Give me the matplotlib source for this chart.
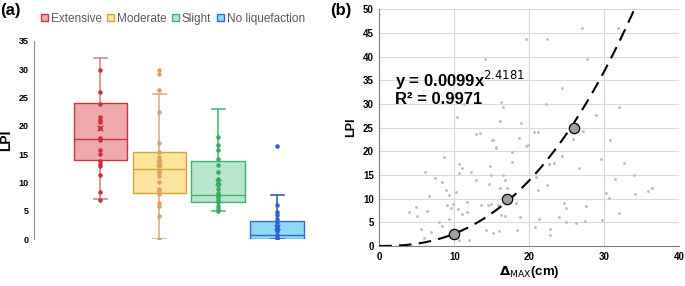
import numpy as np
import matplotlib.pyplot as plt
from matplotlib.patches import Patch

plt.rcParams['font.family'] = ['Liberation Sans', 'DejaVu Sans']

# ---- (a) box plot data ----
categories = ['Extensive', 'Moderate', 'Slight', 'No liquefaction']
q1 = [13.9, 8.2, 6.5, 0.0]
median = [17.7, 12.3, 7.8, 0.8]
q3 = [24.0, 15.3, 13.8, 3.2]
whis_lo = [7.0, 0.0, 5.0, 0.0]
whis_hi = [32.0, 25.6, 23.0, 7.7]
means = [19.6, 13.5, 10.0, 2.2]

pts_ext = [29.9, 25.9, 23.9, 21.6, 21.0, 20.7, 19.6, 17.9, 17.5, 15.8, 15.0,
           13.8, 13.2, 12.9, 11.4, 8.3, 6.9]
pts_mod = [29.8, 29.1, 26.4, 22.4, 17.0, 15.3, 14.5, 13.9, 13.5, 12.9, 12.1,
           11.6, 11.2, 10.1, 8.8, 8.5, 7.9, 6.3, 5.9, 4.1, 0.0]
pts_sli = [18.1, 16.6, 15.7, 14.1, 13.0, 11.8, 10.7, 9.9, 9.6, 8.8, 8.2,
           7.8, 7.4, 6.9, 6.5, 5.9, 5.4, 5.0]
pts_noliq = [16.5, 6.1, 4.8, 4.2, 3.6, 3.1, 2.3, 1.9, 1.4, 0.8, 0.4, 0.0]
points = [pts_ext, pts_mod, pts_sli, pts_noliq]

fills = ['#EDAAAD', '#FDE49E', '#B8E5CD', '#90D7F8']
edges = ['#C9363F', '#D6A23C', '#3FB270', '#2F6BD0']
whisk = ['#C98B8E', '#D8B190', '#4DBA7C', '#3562B8']
dots = ['#C8303A', '#DDA060', '#30AE5E', '#2E5FD0']

# ---- (b) scatter data ----
bg_x = [27.0, 31.8, 19.6, 22.4, 27.65, 14.1, 24.3, 16.2, 16.5, 22.2, 32.0,
        11.3, 10.4, 28.9, 16.05, 18.9, 30.8, 19.6, 15.0, 15.6, 12.85, 13.4,
        20.6, 21.1, 18.6, 24.3, 17.65, 17.65, 26.6, 29.5, 32.6, 34.0, 31.4,
        22.6, 22.4, 21.2, 20.85, 23.3, 14.7, 14.85, 16.5, 16.7, 14.6, 16.05,
        17.0, 8.57, 6.05, 7.38, 10.6, 11.0, 10.6, 6.6, 8.4, 8.9, 9.3, 10.2,
        4.85, 3.96, 5.07, 6.4, 9.07, 9.5, 9.8, 10.5, 11.0, 11.7, 11.65, 12.2,
        12.9, 7.9, 9.3, 8.4, 5.6, 6.85, 5.96, 10.6, 12.0, 18.2, 13.5, 14.5,
        14.9, 16.2, 16.8, 15.8, 18.7, 14.2, 15.2, 15.9, 18.4, 20.8, 22.8,
        22.7, 21.3, 24.6, 24.85, 24.0, 24.9, 26.2, 27.1, 30.2, 30.6, 34.1,
        35.8, 36.4, 27.6, 32.0, 27.4, 29.65, 25.8, 19.8, 15.16, 15.6]
bg_y = [46.0, 46.0, 43.7, 43.7, 39.6, 39.6, 33.4, 30.5, 29.4, 29.9, 29.4,
        29.9, 27.3, 27.7, 26.3, 25.9, 22.4, 21.2, 22.3, 21.0, 23.7, 23.9,
        24.0, 24.1, 22.9, 19.1, 19.9, 17.7, 16.5, 18.3, 17.5, 15.1, 14.1,
        17.3, 12.9, 11.8, 14.6, 17.5, 16.8, 15.0, 15.0, 13.9, 13.0, 12.3,
        12.2, 18.9, 15.7, 14.3, 17.3, 16.5, 15.4, 10.6, 13.6, 11.8, 10.8, 11.5,
        8.3, 7.1, 6.4, 7.4, 8.7, 8.0, 8.8, 7.8, 6.7, 9.2, 7.1, 15.7,
        13.9, 5.1, 5.6, 4.3, 3.5, 3.0, 1.75, 1.3, 1.3, 9.1, 8.7, 8.7,
        8.8, 6.5, 6.4, 8.7, 6.2, 3.4, 2.7, 3.2, 3.4, 4.1, 3.6,
        2.3, 5.8, 9.0, 8.0, 6.2, 5.0, 4.8, 24.3, 11.1, 10.1, 11.0,
        11.6, 12.3, 8.4, 6.9, 5.3, 5.5, 22.7, 21.3, 22.4, 20.8]
class_x = [10, 17, 26]
class_y = [2.5, 10, 25]
fit_a = 0.0099
fit_b = 2.4181

fig = plt.figure(figsize=(6.85, 2.86), dpi=100)

# ---------- panel (a) ----------
ax1 = fig.add_axes([0.0496, 0.164, 0.447, 0.693])
stats = []
for i in range(4):
    stats.append(dict(med=median[i], q1=q1[i], q3=q3[i], whislo=whis_lo[i],
                      whishi=whis_hi[i], mean=means[i], fliers=[]))
pos = np.arange(4)
bp = ax1.bxp(stats, positions=pos, widths=0.9, capwidths=0.22, patch_artist=True,
             showfliers=False, showmeans=False)
for i in range(4):
    bp['boxes'][i].set(facecolor=fills[i], edgecolor=edges[i], linewidth=1.0)
    bp['medians'][i].set(color=edges[i], linewidth=1.0)
    for w in bp['whiskers'][2 * i:2 * i + 2]:
        w.set(color=whisk[i], linewidth=1.2)
    for c in bp['caps'][2 * i:2 * i + 2]:
        c.set(color=whisk[i], linewidth=1.2)
    ax1.scatter([pos[i]] * len(points[i]), points[i], s=5, color=dots[i], zorder=3)
    ax1.scatter([pos[i]], [means[i]], marker='x', s=16, color=dots[i],
                linewidths=1.0, zorder=4)

ax1.set_xlim(-1.12, 4.07)
ax1.set_ylim(0, 35)
ax1.set_yticks(range(0, 36, 5))
ax1.set_xticks([])
for s in ['top', 'right', 'bottom']:
    ax1.spines[s].set_visible(False)
ax1.spines['left'].set_color('#8C8C8C')
ax1.tick_params(axis='y', length=0, labelsize=6.5, pad=4)
for lb in ax1.get_yticklabels():
    lb.set_fontweight('bold')
ax1.set_ylabel('LPI', fontsize=10, fontweight='bold', labelpad=4)

handles = [Patch(facecolor=fills[i], edgecolor=edges[i], linewidth=1.0)
           for i in range(4)]
leg = fig.legend(handles, categories, loc='center', bbox_to_anchor=(0.252, 0.934),
                 ncol=4, frameon=False, fontsize=8.5, handlelength=0.6,
                 handleheight=0.6, handletextpad=0.25, columnspacing=0.45)
for t in leg.get_texts():
    t.set_color('#595959')

fig.text(0.0, 0.965, '(a)', fontsize=12, fontweight='bold', va='center')

# ---------- panel (b) ----------
ax2 = fig.add_axes([0.5537, 0.1399, 0.438, 0.8276])
ax2.scatter(bg_x, bg_y, s=1.2, color='#BDBDBD', zorder=2)
xc = np.linspace(0, 34.1, 200)
ax2.plot(xc, fit_a * xc ** fit_b, color='black', linestyle=(0, (6, 3.5)),
         linewidth=1.5, zorder=3)
ax2.scatter(class_x, class_y, s=55, color='#A0A0A0', edgecolor='black',
            linewidths=0.9, zorder=4)
ax2.set_xlim(0, 40)
ax2.set_ylim(0, 50)
ax2.set_xticks(range(0, 41, 10))
ax2.set_yticks(range(0, 51, 5))
ax2.xaxis.grid(True, color='#D9D9D9', linewidth=0.8)
ax2.set_axisbelow(True)
for yv in range(5, 51, 5):
    ax2.axhline(yv, color='#D9D9D9', linewidth=0.8, zorder=0)
for s in ['top', 'right']:
    ax2.spines[s].set_visible(False)
ax2.spines['left'].set_color('#7F7F7F')
ax2.spines['bottom'].set_color('#7F7F7F')
ax2.tick_params(length=0, labelsize=7, pad=4)
for lb in ax2.get_xticklabels() + ax2.get_yticklabels():
    lb.set_fontweight('bold')
ax2.set_ylabel('LPI', fontsize=9, fontweight='bold', labelpad=4)
ax2.set_xlabel(r'$\mathbf{\Delta}_{\mathrm{MAX}}$(cm)', fontsize=9.5,
               fontweight='bold', labelpad=2)
ax2.text(2.1, 33.4, 'y = 0.0099x$^{2.4181}$\nR² = 0.9971', fontsize=12,
         fontweight='bold', va='center', linespacing=1.0)

fig.text(0.482, 0.965, '(b)', fontsize=12, fontweight='bold', va='center')

fig.savefig('out.png', dpi=100)
